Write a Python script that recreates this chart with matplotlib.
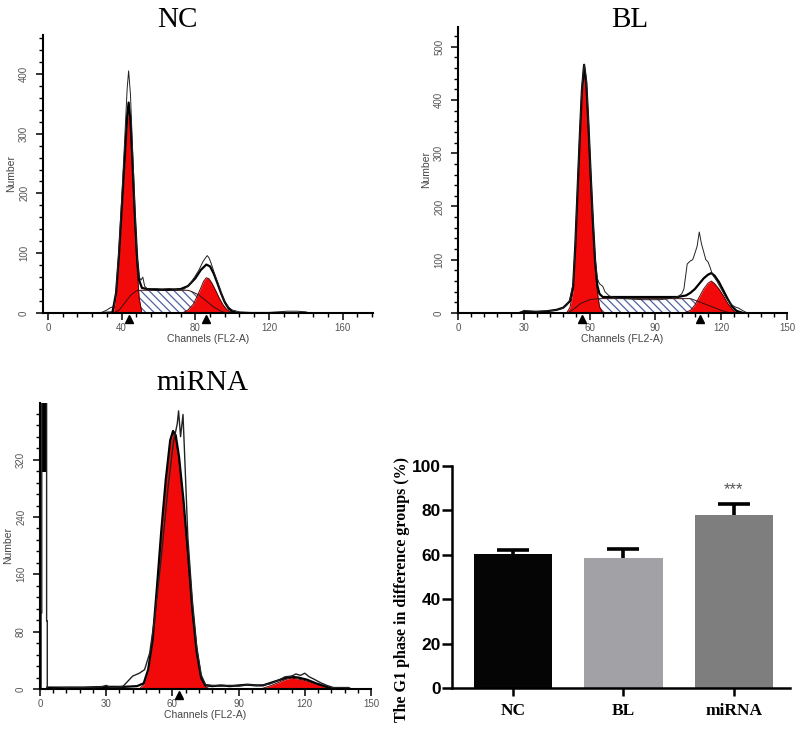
import numpy as np
import matplotlib.pyplot as plt
from matplotlib.ticker import MultipleLocator

plt.rcParams['font.family'] = ['Liberation Sans', 'DejaVu Sans']
plt.rcParams['hatch.linewidth'] = 0.9

# ---------------- datos ----------------
# NC
nc_raw_x = [28, 30, 32, 34, 35, 36, 37, 38.5, 40, 41.5, 43, 43.8, 44.8, 46, 47.2, 48.4, 49.5, 50.5,
            51.5, 52.5, 54, 58, 62, 66, 70, 74, 77, 80, 82, 84, 85.5, 86.5, 87.5, 88.5, 90, 92, 94, 96, 98,
            100, 104, 110, 120, 125, 130, 135, 140, 142]
nc_raw_y = [0, 2, 5, 9, 10, 12, 38, 105, 190, 280, 375, 405, 365, 270, 175, 95, 60, 55,
            60, 45, 40, 41, 40, 41, 39, 40, 48, 62, 72, 85, 92, 96, 92, 84, 70, 52, 34, 20, 10,
            5, 2, 1, 1, 2, 3, 3, 2, 0]
nc_fit_x = [30, 35, 37, 38.5, 40, 41.5, 43, 43.8, 44.8, 46, 47.2, 48.4, 49.5, 51, 54, 60, 66,
            72, 76, 80, 83, 86, 88, 90, 92, 94, 96, 98, 100, 103]
nc_fit_y = [0, 1, 34, 95, 172, 250, 330, 352, 322, 245, 162, 92, 55, 42, 40, 39, 39,
            40, 45, 58, 72, 81, 78, 66, 50, 33, 18, 8, 3, 0]
nc_g1_x = [35.5, 37, 38.5, 40, 41.5, 43, 43.8, 44.8, 46, 47.2, 48.4, 49.5, 51]
nc_g1_y = [0, 30, 90, 165, 240, 320, 345, 315, 235, 150, 75, 25, 0]
nc_g2_x = [73, 76, 79, 81, 83, 84.5, 86, 87.5, 89, 91, 93, 95, 97, 99, 101]
nc_g2_y = [0, 5, 15, 28, 42, 53, 59, 57, 50, 38, 25, 14, 6, 2, 0]
nc_s_x = [36, 39, 42, 45, 48, 50, 60, 70, 76, 78, 82, 86, 90, 94, 97]
nc_s_y = [0, 6, 18, 30, 37, 38, 38, 38, 38, 36, 30, 20, 10, 3, 0]
nc_marks = [44.2, 85.6]

# BL
bl_raw_x = [29, 30, 32, 36, 40, 44, 47, 49.5, 51, 52.5, 53.5, 54.5, 55.5, 56.5, 57.5, 58.5, 59.5, 60.5,
            61.5, 62.5, 63.5, 64.5, 66, 67, 69, 72, 76, 80, 84, 88, 92, 96, 100, 102, 103, 104.5, 106,
            107, 108, 109, 110, 111, 112, 113, 114, 115, 116, 118, 120, 122, 124, 126, 128, 130, 132]
bl_raw_y = [0, 5, 4, 3, 4, 5, 8, 14, 25, 55, 130, 235, 335, 425, 467, 440, 360, 265,
            180, 105, 65, 55, 50, 40, 32, 28, 27, 26, 25, 25, 25, 27, 30, 36, 45, 92, 98,
            100, 112, 125, 152, 130, 115, 100, 96, 85, 72, 60, 45, 30, 18, 12, 9, 4, 0]
bl_fit_x = [28, 30, 35, 40, 45, 48, 49.5, 51, 52.5, 53.5, 54.5, 55.5, 56.5, 57.5, 58.5, 59.5, 60.5,
            61.5, 62.5, 63.5, 64.5, 66, 70, 80, 90, 100, 104, 106, 108, 110, 112, 114, 115.5, 117, 119,
            121, 123, 125, 127, 130]
bl_fit_y = [0, 3, 2, 3, 6, 10, 16, 22, 50, 128, 228, 328, 418, 466, 432, 350, 258,
            172, 98, 52, 36, 30, 30, 30, 30, 30, 33, 38, 45, 55, 65, 72, 75, 70, 58,
            42, 26, 12, 4, 0]
bl_g1_x = [49.5, 51, 52.5, 53.5, 54.5, 55.5, 56.5, 57.5, 58.5, 59.5, 60.5, 61.5, 62.5, 63.5, 64.5, 66]
bl_g1_y = [0, 10, 40, 120, 220, 320, 410, 453, 420, 340, 250, 165, 90, 40, 12, 0]
bl_g2_x = [103, 106, 108, 110, 112, 114, 115.5, 117, 119, 121, 123, 125, 127]
bl_g2_y = [0, 5, 15, 30, 45, 56, 60, 55, 45, 32, 18, 7, 0]
bl_s_x = [50, 53, 56, 60, 64, 70, 80, 90, 100, 106, 110, 115, 120, 124]
bl_s_y = [0, 8, 18, 25, 27, 27, 27, 27, 27, 27, 21, 13, 5, 0]
bl_marks = [56.5, 110.2]

# miRNA
mi_raw_x = [0.5, 0.5, 0.8, 0.8, 3.0, 3.0, 3.3, 3.3, 12, 20, 28, 30, 32, 36, 37.7, 42, 45, 47.4, 49.7,
            52, 55, 58, 60.5, 62.2, 62.8, 63.7, 64.8, 65.5, 67, 69, 71, 73, 75, 78, 82, 86, 90, 94, 98,
            102, 104, 108, 111, 114, 116, 118, 120, 122, 124, 127, 130, 133, 140, 141]
mi_raw_y = [0, 106, 106, 400, 400, 95, 95, 0, 2, 2, 3, 5, 2, 3, 4, 18, 22, 27, 50,
            100, 185, 280, 345, 370, 388, 352, 383, 330, 212, 125, 60, 20, 6, 5, 4, 5, 4, 6, 5,
            6, 7, 12, 17, 18, 21, 19, 22, 17, 14, 9, 5, 2, 2, 0]
mi_fit_x = [3.3, 12, 20, 30, 38, 44, 47, 49, 51, 53, 55, 57, 59, 60.3, 61.5, 63, 65,
            67, 69, 71, 73, 75, 78, 82, 86, 90, 94, 98, 101, 104, 108, 112, 114, 117, 121, 125, 129,
            132, 135]
mi_fit_y = [2, 2, 2, 3, 3, 4, 8, 27, 67, 142, 222, 292, 347, 360, 354, 324, 264,
            192, 112, 52, 16, 5, 4, 5, 4, 5, 6, 5, 5, 8, 12, 16, 17, 16, 13, 8, 4,
            1, 0]
mi_g1_x = [45, 47, 49, 51, 53, 55, 57, 59, 60.3, 61.5, 63, 65, 67, 69, 71, 73, 75, 77]
mi_g1_y = [0, 6, 25, 65, 140, 220, 290, 345, 358, 352, 322, 262, 190, 110, 50, 14, 3, 0]
mi_g2_x = [100, 104, 108, 112, 114, 117, 121, 125, 129, 132]
mi_g2_y = [0, 4, 9, 14, 15, 14, 11, 7, 3, 0]
mi_marks = [62.8]
mi_debris = ([0.8, 3.0], [303, 303])

# barras
groups = ['NC', 'BL', 'miRNA']
g1_mean = [60.5, 58.5, 77.8]
g1_err = [1.8, 4.2, 5.3]
bar_colors = ['#050505', '#a2a2a6', '#7e7e7e']

RED = '#f20a0a'
W, H = 800, 740


def px_axes(fig, left, top, right, bottom):
    return fig.add_axes([left / W, 1 - bottom / H, (right - left) / W, (bottom - top) / H])


def histo(ax, raw, fit, g1, g2, s, marks, xlim, ylim, xmaj, xmin, ymaj, ymin, raw_lw=0.7):
    if s is not None:
        ax.fill_between(s[0], s[1], facecolor='white', hatch='\\\\\\\\', edgecolor='#4f62a0', lw=0)
    for gx, gy in (g1, g2):
        ax.fill_between(gx, gy, color=RED, lw=0)
        ax.plot(gx, gy, color='#5a0000', lw=0.7)
    if s is not None:
        ax.plot(s[0], s[1], color='#3a1010', lw=0.7)
    ax.plot(fit[0], fit[1], color='black', lw=1.6)
    ax.plot(raw[0], raw[1], color='#222222', lw=raw_lw)
    ax.plot(marks, [-0.022] * len(marks), '^', color='black', ms=6,
            transform=ax.get_xaxis_transform(), clip_on=False)
    ax.set_xlim(*xlim)
    ax.set_ylim(*ylim)
    ax.xaxis.set_major_locator(MultipleLocator(xmaj))
    ax.xaxis.set_minor_locator(MultipleLocator(xmin))
    ax.yaxis.set_major_locator(MultipleLocator(ymaj))
    ax.yaxis.set_minor_locator(MultipleLocator(ymin))
    for sp in ('top', 'right'):
        ax.spines[sp].set_visible(False)
    for sp in ('left', 'bottom'):
        ax.spines[sp].set_linewidth(1.5)
    ax.tick_params(which='major', length=5, width=1.1, labelsize=7, labelcolor='#555555', pad=2)
    ax.tick_params(which='minor', length=3, width=1.0)
    ax.tick_params(axis='y', labelrotation=90, pad=5)
    for lb in ax.get_yticklabels():
        lb.set_va('center')
    ax.set_xlabel('Channels (FL2-A)', fontsize=7.5, color='#444444', labelpad=1)
    ax.set_ylabel('Number', fontsize=7.5, color='#444444', labelpad=2)


fig = plt.figure(figsize=(8, 7.4), dpi=100)

ax1 = px_axes(fig, 43, 35, 373, 313)
histo(ax1, (nc_raw_x, nc_raw_y), (nc_fit_x, nc_fit_y), (nc_g1_x, nc_g1_y), (nc_g2_x, nc_g2_y),
      (nc_s_x, nc_s_y), nc_marks, (-2.7, 176.5), (0, 465), 40, 8, 100, 20)

ax2 = px_axes(fig, 458, 27, 787, 313)
histo(ax2, (bl_raw_x, bl_raw_y), (bl_fit_x, bl_fit_y), (bl_g1_x, bl_g1_y), (bl_g2_x, bl_g2_y),
      (bl_s_x, bl_s_y), bl_marks, (0, 150), (0, 537), 30, 6, 100, 20)

ax3 = px_axes(fig, 40, 403, 371, 689)
histo(ax3, (mi_raw_x, mi_raw_y), (mi_fit_x, mi_fit_y), (mi_g1_x, mi_g1_y), (mi_g2_x, mi_g2_y),
      None, mi_marks, (0, 150), (0, 399), 30, 6, 80, 16, raw_lw=1.0)
# columna negra de restos celulares a la izquierda
ax3.fill_between(mi_debris[0], mi_debris[1], [399, 399], color='black', lw=0)

# titulos de los histogramas
serif = ['Liberation Serif', 'DejaVu Serif']
fig.text(177 / W, 1 - 20 / H, 'NC', family=serif, fontsize=21, ha='center', va='center')
fig.text(630 / W, 1 - 20 / H, 'BL', family=serif, fontsize=21, ha='center', va='center')
fig.text(202 / W, 1 - 383 / H, 'miRNA', family=serif, fontsize=21, ha='center', va='center')

# ---------------- grafico de barras ----------------
ax4 = px_axes(fig, 452, 466, 790, 688)
xpos = np.arange(len(groups))
tops = np.array(g1_mean) + np.array(g1_err)
ax4.bar(xpos, g1_mean, width=0.71, color=bar_colors, zorder=2)
# barras de error solo hacia arriba
ax4.vlines(xpos, g1_mean, tops, color='black', lw=2.6, zorder=3)
ax4.hlines(tops, xpos - 0.145, xpos + 0.145, color='black', lw=2.6, zorder=3)
ax4.text(xpos[2], tops[2] + 3.0, '***', ha='center', va='bottom', fontsize=12, color='#555555')
ax4.set_xlim(-0.555, 2.51)
ax4.set_ylim(0, 100)
ax4.yaxis.set_major_locator(MultipleLocator(20))
ax4.set_xticks(xpos)
ax4.set_xticklabels(groups, family=serif, fontweight='bold', fontsize=12.5)
for lb in ax4.get_yticklabels():
    lb.set_fontweight('bold')
ax4.tick_params(axis='y', labelsize=12.5, length=7, width=1.8, pad=1)
ax4.tick_params(axis='x', length=6, width=1.8, pad=5)
for sp in ('top', 'right'):
    ax4.spines[sp].set_visible(False)
for sp in ('left', 'bottom'):
    ax4.spines[sp].set_linewidth(1.8)
ax4.set_ylabel('The G1 phase in difference groups (%)', family=serif, fontweight='bold',
               fontsize=11.5)
ax4.yaxis.set_label_coords((410 - 452) / 338, (688 - 590) / 222)

fig.savefig('out.png', dpi=100)
